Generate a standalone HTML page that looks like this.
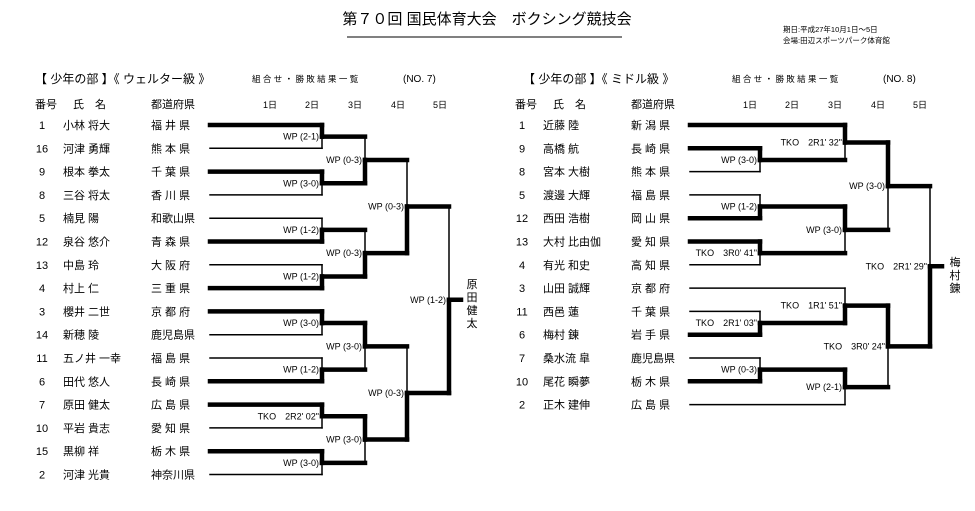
<!DOCTYPE html>
<html><head><meta charset="utf-8"><style>
html,body{margin:0;padding:0;background:#fff;}
svg{display:block;font-family:"Liberation Sans","Noto Sans CJK JP",sans-serif;}
</style></head><body>
<svg id="s" width="975" height="511" viewBox="0 0 975 511" xmlns="http://www.w3.org/2000/svg">
<text x="487" y="24" font-size="15" text-anchor="middle" fill="#000">第７０回 国民体育大会　ボクシング競技会</text>
<line x1="347" y1="37" x2="622" y2="37" stroke="#000" stroke-width="1"/>
<text x="783" y="32" font-size="7.5" fill="#000">期日:平成27年10月1日～5日</text>
<text x="783" y="43" font-size="7.5" fill="#000">会場:田辺スポーツパーク体育館</text>
<text x="35" y="83" font-size="12" fill="#000">【 少年の部 】《 ウェルター級 》</text>
<text x="252" y="82" font-size="8.5" fill="#000">組 合 せ ・ 勝 敗 結 果 一 覧</text>
<text x="403" y="82" font-size="10" fill="#000">(NO. 7)</text>
<text x="523" y="83" font-size="12" fill="#000">【 少年の部 】《 ミドル級 》</text>
<text x="732" y="82" font-size="8.5" fill="#000">組 合 せ ・ 勝 敗 結 果 一 覧</text>
<text x="883" y="82" font-size="10" fill="#000">(NO. 8)</text>
<g font-size="11" fill="#000">
<text x="35" y="108">番号</text><text x="73" y="108">氏　名</text><text x="151" y="108">都道府県</text>
<text x="263" y="108" font-size="9">1日</text><text x="305" y="108" font-size="9">2日</text><text x="348" y="108" font-size="9">3日</text><text x="391" y="108" font-size="9">4日</text><text x="433" y="108" font-size="9">5日</text>
<text x="515" y="108">番号</text><text x="553" y="108">氏　名</text><text x="631" y="108">都道府県</text>
<text x="743" y="108" font-size="9">1日</text><text x="785" y="108" font-size="9">2日</text><text x="828" y="108" font-size="9">3日</text><text x="871" y="108" font-size="9">4日</text><text x="913" y="108" font-size="9">5日</text>
</g>
<g id="g"></g>
</svg>
<script>
var NS="http://www.w3.org/2000/svg",g=document.getElementById("g");
function L(x1,y1,x2,y2,w){var e=document.createElementNS(NS,"line");e.setAttribute("x1",x1);e.setAttribute("y1",y1);e.setAttribute("x2",x2);e.setAttribute("y2",y2);e.setAttribute("stroke","#000");e.setAttribute("stroke-width",w);e.setAttribute("stroke-linecap","square");g.appendChild(e);}
function T(x,y,s,sz,anc){var e=document.createElementNS(NS,"text");e.setAttribute("x",x);e.setAttribute("y",y);e.setAttribute("font-size",sz);if(anc)e.setAttribute("text-anchor",anc);e.textContent=s;g.appendChild(e);}
function Y(i){return 125+23.3*i;}
var TH=4.5,TN=1.5;
// match: x vertical, ya, yb, top wins?, output to xo, label
function M(x,ya,yb,topWin,xo,lab,thickOut){var m=(ya+yb)/2;
 L(x,ya,x,m,topWin?TH:TN);L(x,m,x,yb,topWin?TN:TH);
 L(x,m,xo,m,thickOut===false?TN:TH);
 T(x-3,m+3,lab,9,"end");return m;}
function H(x1,y,x2,w){L(x1,y,x2,y,w);}
// LEFT
var Ln=[["1","小林 将大","福 井 県"],["16","河津 勇輝","熊 本 県"],["9","根本 拳太","千 葉 県"],["8","三谷 将太","香 川 県"],["5","楠見 陽","和歌山県"],["12","泉谷 悠介","青 森 県"],["13","中島 玲","大 阪 府"],["4","村上 仁","三 重 県"],["3","櫻井 二世","京 都 府"],["14","新穂 陵","鹿児島県"],["11","五ノ井 一幸","福 島 県"],["6","田代 悠人","長 崎 県"],["7","原田 健太","広 島 県"],["10","平岩 貴志","愛 知 県"],["15","黒柳 祥","栃 木 県"],["2","河津 光貴","神奈川県"]];
var lw=[1,0,1,0,0,1,0,1,1,0,0,1,1,0,1,0];
for(var i=0;i<16;i++){var y=Y(i);T(42,y+4,Ln[i][0],11,"middle");T(63,y+4,Ln[i][1],11);T(151,y+4,Ln[i][2],11);H(210,y,322,lw[i]?TH:TN);}
var r1l=["WP (2-1)","WP (3-0)","WP (1-2)","WP (1-2)","WP (3-0)","WP (1-2)","TKO　2R2' 02\"","WP (3-0)"];
var r1=[];for(i=0;i<8;i++)r1.push(M(322,Y(2*i),Y(2*i+1),lw[2*i]==1,365,r1l[i]));
var r2=[M(365,r1[0],r1[1],false,407,"WP (0-3)"),M(365,r1[2],r1[3],false,407,"WP (0-3)"),M(365,r1[4],r1[5],true,407,"WP (3-0)"),M(365,r1[6],r1[7],true,407,"WP (3-0)")];
var r3=[M(407,r2[0],r2[1],false,449,"WP (0-3)"),M(407,r2[2],r2[3],false,449,"WP (0-3)")];
M(449,r3[0],r3[1],false,461,"WP (1-2)");
["原","田","健","太"].forEach(function(c,k){T(472,288+k*13,c,11,"middle");});
// RIGHT
var Rn=[["1","近藤 陸","新 潟 県"],["9","高橋 航","長 崎 県"],["8","宮本 大樹","熊 本 県"],["5","渡邊 大輝","福 島 県"],["12","西田 浩樹","岡 山 県"],["13","大村 比由伽","愛 知 県"],["4","有光 和史","高 知 県"],["3","山田 誠輝","京 都 府"],["11","西邑 蓮","千 葉 県"],["6","梅村 錬","岩 手 県"],["7","桑水流 皐","鹿児島県"],["10","尾花 瞬夢","栃 木 県"],["2","正木 建伸","広 島 県"]];
var rw=[1,1,0,0,1,1,0,0,0,1,0,1,0];
for(i=0;i<13;i++){var y=Y(i);T(522,y+4,Rn[i][0],11,"middle");T(543,y+4,Rn[i][1],11);T(631,y+4,Rn[i][2],11);}
H(690,Y(0),845,TH);H(690,Y(7),845,TN);H(690,Y(12),845,TN);
[1,2,3,4,5,6,8,9,10,11].forEach(function(i){H(690,Y(i),760,rw[i]?TH:TN);});
var a=M(760,Y(1),Y(2),true,845,"WP (3-0)");
var b=M(760,Y(3),Y(4),false,845,"WP (1-2)");
var c=M(760,Y(5),Y(6),true,845,"TKO　3R0' 41\"");
var d=M(760,Y(8),Y(9),false,845,"TKO　2R1' 03\"");
var e=M(760,Y(10),Y(11),false,845,"WP (0-3)");
var f=M(845,Y(0),a,true,888,"TKO　2R1' 32\"");
var h=M(845,b,c,true,888,"WP (3-0)");
var k=M(845,Y(7),d,false,888,"TKO　1R1' 51\"");
var l=M(845,e,Y(12),true,888,"WP (2-1)");
var p=M(888,f,h,true,930,"WP (3-0)");
var q=M(888,k,l,true,930,"TKO　3R0' 24\"");
M(930,p,q,false,942,"TKO　2R1' 29\"");
["梅","村","錬"].forEach(function(c,k){T(955,266+k*13,c,11,"middle");});
</script>
</body></html>
